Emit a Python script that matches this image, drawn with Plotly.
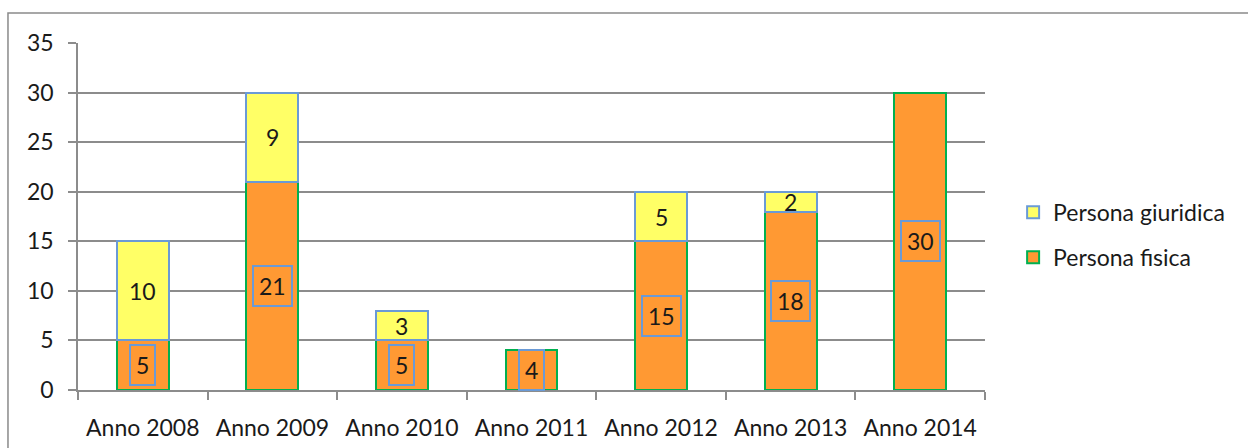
import plotly.graph_objects as go

categories = ["Anno 2008", "Anno 2009", "Anno 2010", "Anno 2011", "Anno 2012", "Anno 2013", "Anno 2014"]
persona_fisica = [5, 21, 5, 4, 15, 18, 30]
persona_giuridica = [10, 9, 3, 0, 5, 2, 0]
y_ticks = [0, 5, 10, 15, 20, 25, 30, 35]

FONT = "Lato"
ORANGE = "#FF9933"
YELLOW = "#FFFF66"
GREEN = "#00B050"
BLUE = "#6A9AD6"
GRID = "#8C8C8C"
TXT = "#1a1a1a"
FS = 23

fig = go.Figure()
fig.add_trace(go.Bar(
    x=categories, y=persona_fisica, name="Persona fisica",
    marker=dict(color=ORANGE, line=dict(color=GREEN, width=2)),
    legendgroup="f", legendrank=2,
))
fig.add_trace(go.Bar(
    x=categories, y=[v if v else None for v in persona_giuridica], name="Persona giuridica",
    marker=dict(color=YELLOW, line=dict(color=BLUE, width=2)),
    legendgroup="g", legendrank=1,
))

annotations = []
for c, f, g in zip(categories, persona_fisica, persona_giuridica):
    if f:
        annotations.append(dict(
            x=c, y=f / 2, xref="x", yref="y", text=str(f), showarrow=False,
            font=dict(family=FONT, size=FS, color=TXT),
            bordercolor=BLUE, borderwidth=2, borderpad=5, bgcolor=ORANGE,
        ))
    if g:
        annotations.append(dict(
            x=c, y=f + g / 2, xref="x", yref="y", text=str(g), showarrow=False,
            font=dict(family=FONT, size=FS, color=TXT),
        ))

fig.add_shape(type="rect", xref="paper", yref="paper",
              x0=-0.0772, x1=1.45, y0=-0.4, y1=1.0865,
              line=dict(color="#8A8A8A", width=1.5), layer="below")

fig.update_layout(
    width=1248, height=448,
    margin=dict(l=78, r=263, t=43, b=58),
    barmode="stack", bargap=0.6,
    paper_bgcolor="white", plot_bgcolor="white",
    font=dict(family=FONT, size=FS, color=TXT),
    annotations=annotations,
    showlegend=True,
    legend=dict(x=1.031, y=0.447, xanchor="left", yanchor="middle",
                traceorder="grouped", tracegroupgap=12,
                font=dict(family=FONT, size=FS, color=TXT)),
    xaxis=dict(showline=True, linecolor=GRID, linewidth=1.5, ticks="outside",
               tickson="boundaries", ticklen=8, tickcolor=GRID, tickwidth=1.5,
               ticklabelstandoff=17, showgrid=False, automargin=False,
               tickfont=dict(family=FONT, size=FS, color=TXT)),
    yaxis=dict(range=[0, 35], tickvals=y_ticks, showline=True, linecolor=GRID,
               linewidth=1.5, showgrid=True, gridcolor=GRID, gridwidth=1.5,
               ticks="outside", ticklen=8, tickcolor=GRID, tickwidth=1.5,
               ticklabelstandoff=10, zeroline=False, automargin=False,
               tickfont=dict(family=FONT, size=FS, color=TXT)),
)

fig.write_html("out.html", config={"displayModeBar": False},
               post_script="document.body.style.margin='0';")
